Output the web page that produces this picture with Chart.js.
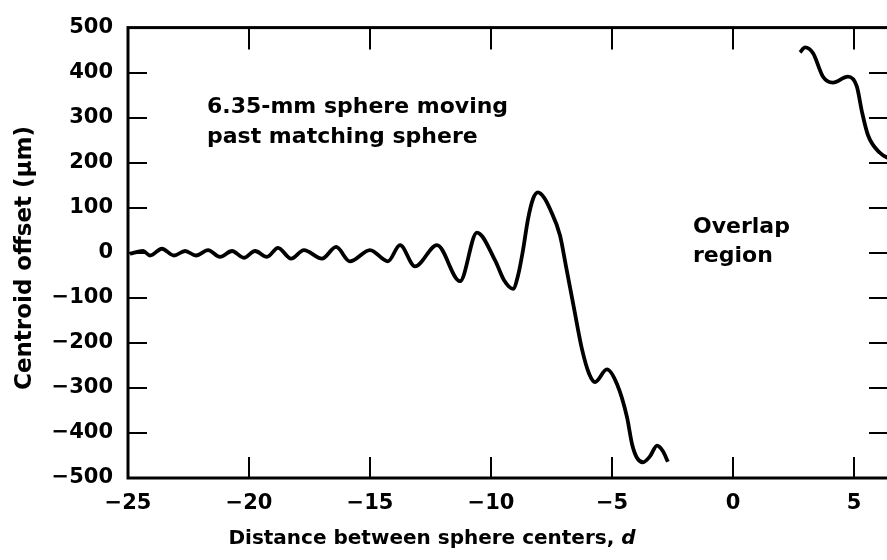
<!DOCTYPE html>
<html>
<head>
<meta charset="utf-8">
<script src="https://cdn.jsdelivr.net/npm/chart.js@4.4.1/dist/chart.umd.min.js"></script>
<style>
  html, body { margin: 0; padding: 0; background: #fff; overflow: hidden; }
  canvas { display: block; }
</style>
</head>
<body>
<canvas id="plot" width="895" height="560"></canvas>
<script>
// approaching side (d < 0)
var xApproach = [-24.92, -24.38, -24.09, -23.60, -23.10, -22.64, -22.19, -21.69, -21.20, -20.70,
                 -20.21, -19.75, -19.26, -18.80, -18.26, -17.73, -16.98, -16.40, -15.83, -15.00,
                 -14.26, -13.76, -13.14, -12.23, -11.28, -10.58, -9.83, -9.46, -9.09, -8.88,
                 -8.68, -8.47, -8.26, -8.06, -7.80, -7.56, -7.15, -6.90, -6.57, -6.24,
                 -5.95, -5.70, -5.21, -4.79, -4.38, -4.17, -3.97, -3.72, -3.43, -3.14,
                 -2.90, -2.69];
var yApproach = [-2, 4, -6, 9, -6, 4, -6, 6, -9, 4,
                 -11, 4, -9, 11, -13, 6, -13, 13, -19, 6,
                 -19, 17, -30, 17, -63, 45, -17, -61, -80, -50,
                 5, 75, 120, 134, 122, 97, 39, -30, -123, -214,
                 -268, -287, -259, -292, -365, -425, -455, -465, -452, -428,
                 -440, -464];

// leaving side (d > 0)
var xLeave = [2.77, 2.98, 3.31, 3.72, 4.13, 4.75, 5.12, 5.33, 5.58, 6.07, 6.49];
var yLeave = [445, 456, 443, 391, 378, 391, 369, 313, 261, 222, 208];

var xTicks = [-25, -20, -15, -10, -5, 0, 5];
var yTicks = [-500, -400, -300, -200, -100, 0, 100, 200, 300, 400, 500];

function pts(xs, ys) {
    return xs.map(function(x, i) { return {x: x, y: ys[i]}; });
}
function fmt(v) {
    return v < 0 ? '\u2212' + Math.abs(v) : '' + v;
}

var FONT = '"DejaVu Sans", sans-serif';

var framePlugin = {
    id: 'frame',
    afterDraw: function(chart) {
        var c = chart.ctx, a = chart.chartArea;
        var xs = chart.scales.x, ys = chart.scales.y;
        c.save();
        c.strokeStyle = '#000';
        c.lineWidth = 3;
        c.strokeRect(a.left, a.top, a.right - a.left, a.bottom - a.top);

        // inward tick marks on all four sides
        c.lineWidth = 2;
        c.beginPath();
        xTicks.forEach(function(v) {
            if (v === -25) return;
            var p = Math.round(xs.getPixelForValue(v));
            c.moveTo(p, a.top); c.lineTo(p, a.top + 22);
            c.moveTo(p, a.bottom); c.lineTo(p, a.bottom - 21);
        });
        yTicks.forEach(function(v) {
            if (v === 500 || v === -500) return;
            var p = Math.round(ys.getPixelForValue(v));
            c.moveTo(a.left, p); c.lineTo(a.left + 19, p);
            c.moveTo(a.right, p); c.lineTo(a.right - 22, p);
        });
        c.stroke();

        c.fillStyle = '#000';
        c.textBaseline = 'alphabetic';
        c.textAlign = 'left';
        c.font = 'bold 22px ' + FONT;
        c.fillText('6.35-mm sphere moving', 207, 113);
        c.fillText('past matching sphere', 207, 143);
        c.fillText('Overlap', 693, 233);
        c.fillText('region', 693, 262);

        // x title with italic d
        var t1 = 'Distance between sphere centers, ';
        c.font = 'bold 20px ' + FONT;
        var w1 = c.measureText(t1).width;
        c.font = 'italic bold 20px ' + FONT;
        var w2 = c.measureText('d').width;
        var x0 = 432 - (w1 + w2) / 2;
        c.font = 'bold 20px ' + FONT;
        c.fillText(t1, x0, 544);
        c.font = 'italic bold 20px ' + FONT;
        c.fillText('d', x0 + w1, 544);

        // y title
        c.translate(31, 258);
        c.rotate(-Math.PI / 2);
        c.textAlign = 'center';
        c.font = 'bold 23px ' + FONT;
        c.fillText('Centroid offset (\u03bcm)', 0, 0);
        c.restore();
    }
};

var ctx = document.getElementById('plot');
var chart = new Chart(ctx, {
    type: 'line',
    data: {
        datasets: [{
            data: pts(xApproach, yApproach),
            borderColor: '#000',
            borderWidth: 3.8,
            pointRadius: 0,
            cubicInterpolationMode: 'monotone',
            fill: false
        }, {
            data: pts(xLeave, yLeave),
            borderColor: '#000',
            borderWidth: 3.8,
            pointRadius: 0,
            cubicInterpolationMode: 'monotone',
            fill: false
        }]
    },
    options: {
        responsive: false,
        animation: false,
        devicePixelRatio: 1,
        layout: { padding: { top: 17, right: 4, left: 0, bottom: 0 } },
        plugins: {
            legend: { display: false },
            tooltip: { enabled: false }
        },
        scales: {
            x: {
                type: 'linear',
                min: -25,
                max: 6.53,
                afterBuildTicks: function(scale) {
                    scale.ticks = xTicks.map(function(v) { return {value: v}; });
                },
                afterFit: function(scale) { scale.height = 82; },
                grid: { display: false, drawTicks: false },
                border: { display: false },
                ticks: {
                    padding: 13,
                    color: '#000',
                    font: { family: FONT, size: 21, weight: 'bold' },
                    callback: function(v) { return fmt(v); }
                }
            },
            y: {
                min: -500,
                max: 500,
                afterBuildTicks: function(scale) {
                    scale.ticks = yTicks.map(function(v) { return {value: v}; });
                },
                afterFit: function(scale) { scale.width = 128; },
                grid: { display: false, drawTicks: false },
                border: { display: false },
                ticks: {
                    padding: 15,
                    color: '#000',
                    font: { family: FONT, size: 21, weight: 'bold' },
                    callback: function(v) { return fmt(v); }
                }
            }
        }
    },
    plugins: [framePlugin]
});
</script>
</body>
</html>
